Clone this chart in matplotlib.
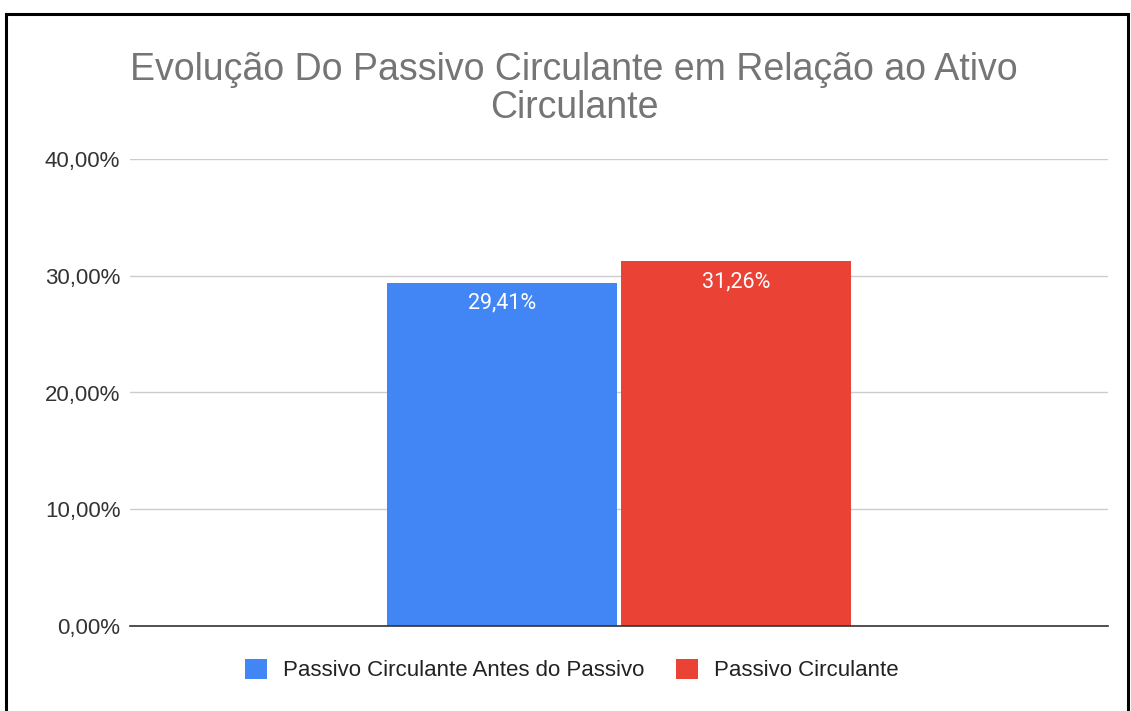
import matplotlib.pyplot as plt
from matplotlib.patches import Rectangle

# dados
series = ['Passivo Circulante Antes do Passivo', 'Passivo Circulante']
values = [29.41, 31.26]
colors = ['#4285f4', '#ea4335']
yticks = [0, 10, 20, 30, 40]
title = 'Evolução Do Passivo Circulante em Relação ao Ativo\nCirculante'

plt.rcParams['font.family'] = ['Liberation Sans', 'DejaVu Sans']

fig = plt.figure(figsize=(11.31, 7.11), dpi=100)
ax = fig.add_axes([130 / 1131, 1 - 626 / 711, 978 / 1131, 467 / 711])

width = 0.235
gap = 0.005
offsets = [-(width + gap) / 2, (width + gap) / 2]
for off, v, c, name in zip(offsets, values, colors, series):
    ax.bar(off, v, width=width, color=c, label=name, zorder=3)
    ax.text(off, v - 0.85, f'{v:.2f}%'.replace('.', ','), ha='center', va='top',
            color='white', fontsize=15.5, family=['Roboto', 'DejaVu Sans'], zorder=4)

ax.set_xlim(-0.5, 0.5)
ax.set_ylim(0, 40)
ax.set_yticks(yticks)
ax.set_yticklabels([f'{t:.2f}%'.replace('.', ',') for t in yticks], fontsize=16, color='#333333')
ax.set_xticks([])
ax.tick_params(axis='y', length=0, pad=7)
ax.grid(axis='y', color='#cccccc', linewidth=1, zorder=0)
for s in ['top', 'right', 'left']:
    ax.spines[s].set_visible(False)
ax.spines['bottom'].set_color('#333333')
ax.spines['bottom'].set_linewidth(1.2)
ax.spines['bottom'].set_zorder(5)

fig.text(574 / 1131, 1 - 89 / 711, title, ha='center', va='center', fontsize=27,
         color='#757575', linespacing=1.1)

leg = fig.legend(*ax.get_legend_handles_labels(), loc='center',
                 bbox_to_anchor=(572 / 1131, 1 - 670 / 711), ncol=2, frameon=False,
                 fontsize=16, handlelength=1.0, handleheight=1.0, handletextpad=0.72,
                 columnspacing=1.4)
for t in leg.get_texts():
    t.set_color('#222222')

# moldura preta
fig.add_artist(Rectangle((6 / 1131, -0.1), 1122 / 1131, 1.1 - 14 / 711,
                         transform=fig.transFigure, fill=False, edgecolor='black',
                         linewidth=2.2))

plt.savefig('out.png', dpi=100)
